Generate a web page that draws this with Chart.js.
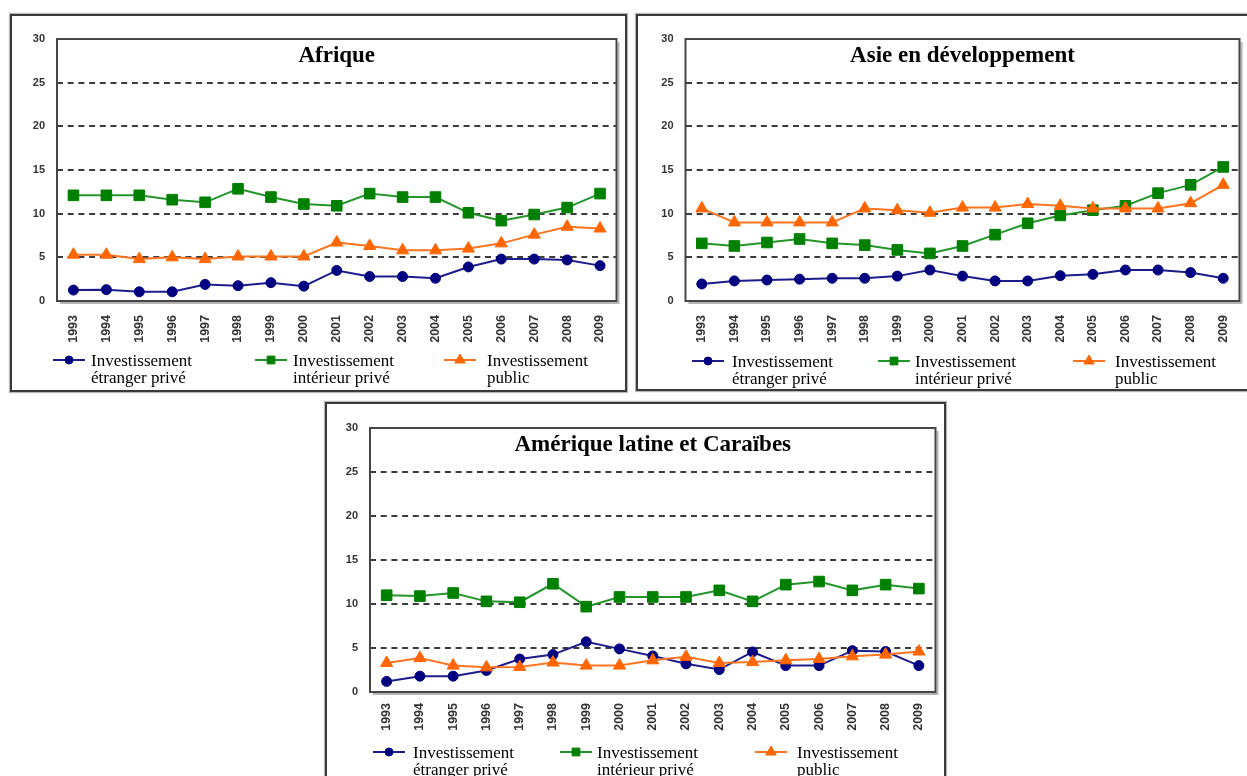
<!DOCTYPE html>
<html>
<head>
<meta charset="utf-8">
<script src="https://cdn.jsdelivr.net/npm/chart.js@4.4.1/dist/chart.umd.min.js"></script>
<style>
  html, body { margin: 0; padding: 0; background: #fff; width: 1247px; height: 776px; overflow: hidden; }
  .panel { position: absolute; box-sizing: border-box; border: 2px solid #3a3a3a; box-shadow: 0 0 1px 1px #b8b8b8; background: #fff; }
  canvas { position: absolute; }
</style>
</head>
<body>
<div class="panel" style="left:10px;top:14px;width:617px;height:378px"></div>
<div class="panel" style="left:636px;top:14px;width:614px;height:377px"></div>
<div class="panel" style="left:325px;top:402px;width:621px;height:380px"></div>
<canvas id="cAfrique" width="613" height="374" style="left:12px;top:16px"></canvas>
<canvas id="cAsie" width="610" height="373" style="left:638px;top:16px"></canvas>
<canvas id="cAmerique" width="617" height="376" style="left:327px;top:404px"></canvas>
<script>
// Années (axe des abscisses)
const years = ['1993','1994','1995','1996','1997','1998','1999','2000','2001',
               '2002','2003','2004','2005','2006','2007','2008','2009'];

// Libellés des trois séries (deux lignes dans la légende)
const seriesLines = [
  ['Investissement', 'étranger privé'],
  ['Investissement', 'intérieur privé'],
  ['Investissement', 'public']
];

// Graduations de l'axe vertical
const yTickValues = [0, 5, 10, 15, 20, 25, 30];

// Afrique
const afriqueEtranger  = [1.25, 1.3, 1.05, 1.05, 1.9, 1.75, 2.1, 1.7, 3.5, 2.8, 2.8, 2.6, 3.9, 4.8, 4.8, 4.7, 4.05];
const afriqueInterieur = [12.1, 12.1, 12.1, 11.6, 11.3, 12.85, 11.9, 11.1, 10.9, 12.3, 11.9, 11.9, 10.1, 9.2, 9.9, 10.7, 12.3];
const afriquePublic    = [5.3, 5.3, 4.8, 5.0, 4.8, 5.1, 5.1, 5.1, 6.7, 6.3, 5.8, 5.8, 6.0, 6.6, 7.6, 8.5, 8.3];

// Asie en développement
const asieEtranger  = [1.95, 2.3, 2.4, 2.5, 2.6, 2.6, 2.85, 3.55, 2.85, 2.3, 2.3, 2.9, 3.05, 3.55, 3.55, 3.25, 2.6];
const asieInterieur = [6.6, 6.3, 6.7, 7.1, 6.6, 6.4, 5.85, 5.45, 6.3, 7.6, 8.9, 9.8, 10.4, 10.9, 12.35, 13.3, 15.35];
const asiePublic    = [10.6, 9.0, 9.0, 9.0, 9.0, 10.6, 10.4, 10.1, 10.7, 10.7, 11.1, 10.9, 10.6, 10.6, 10.6, 11.2, 13.3];

// Amérique latine et Caraïbes
const ameriqueEtranger  = [1.2, 1.8, 1.8, 2.45, 3.75, 4.25, 5.7, 4.9, 4.1, 3.2, 2.55, 4.55, 3.0, 3.0, 4.7, 4.6, 3.0];
const ameriqueInterieur = [11.0, 10.9, 11.25, 10.3, 10.2, 12.3, 9.7, 10.8, 10.8, 10.8, 11.55, 10.3, 12.2, 12.55, 11.55, 12.2, 11.75];
const ameriquePublic    = [3.3, 3.85, 3.0, 2.8, 2.85, 3.35, 3.0, 3.0, 3.6, 4.0, 3.3, 3.4, 3.6, 3.75, 4.05, 4.25, 4.6];

Chart.defaults.font.family = '"Liberation Sans", Arial, sans-serif';

// Style de chaque série : couleur de ligne, couleur de marqueur, forme
const seriesStyles = [
  { line: '#1c1c8c', mark: '#000080', shape: 'circle',   r: 5,   legendR: 4 },
  { line: '#23962a', mark: '#008000', shape: 'rect',     r: 7.5, legendR: 5.5 },
  { line: '#ff7420', mark: '#ff6600', shape: 'triangle', r: 7,   legendR: 6 }
];

// Cadre du graphique, ombre et titre dans la zone de tracé
const plotFrame = {
  id: 'plotFrame',
  beforeDatasetsDraw(chart, args, opts) {
    const { ctx, chartArea: a } = chart;
    ctx.save();
    ctx.strokeStyle = '#b4b4b4';
    ctx.lineWidth = 2;
    ctx.beginPath();
    ctx.moveTo(a.right + 2, a.top + 3);
    ctx.lineTo(a.right + 2, a.bottom + 2);
    ctx.lineTo(a.left + 3, a.bottom + 2);
    ctx.stroke();
    ctx.strokeStyle = '#454545';
    ctx.strokeRect(a.left, a.top, a.right - a.left, a.bottom - a.top);
    ctx.fillStyle = '#000';
    ctx.font = 'bold 23px "Liberation Serif", "Times New Roman", serif';
    ctx.textAlign = 'center';
    ctx.textBaseline = 'middle';
    ctx.fillText(opts.title, (a.left + a.right) / 2, a.top + 17);
    ctx.restore();
  }
};

// Légende sous l'axe horizontal, sur deux lignes par série
const panelLegend = {
  id: 'panelLegend',
  afterDraw(chart, args, opts) {
    const ctx = chart.ctx;
    opts.items.forEach((it, i) => {
      const ds = chart.data.datasets[i];
      const st = seriesStyles[i];
      ctx.save();
      ctx.strokeStyle = st.line;
      ctx.lineWidth = 2;
      ctx.beginPath();
      ctx.moveTo(it.lineX, opts.y);
      ctx.lineTo(it.lineX + 32, opts.y);
      ctx.stroke();
      ctx.fillStyle = st.mark;
      ctx.strokeStyle = st.mark;
      ctx.lineWidth = 1;
      Chart.helpers.drawPoint(ctx, { pointStyle: st.shape, radius: st.legendR, rotation: 0, borderWidth: 1 }, it.lineX + 16, opts.y);
      ctx.fillStyle = '#000';
      ctx.font = '17px "Liberation Serif", "Times New Roman", serif';
      ctx.textAlign = 'left';
      ctx.textBaseline = 'alphabetic';
      ds.legendLines.forEach((t, k) => ctx.fillText(t, it.textX, opts.y + 6 + k * 16.5));
      ctx.restore();
    });
  }
};

function makePanel(id, title, values, geo) {
  const datasets = values.map((vals, i) => {
    const st = seriesStyles[i];
    return {
      label: seriesLines[i].join(' '),
      legendLines: seriesLines[i],
      data: vals,
      borderColor: st.line,
      borderWidth: 2,
      backgroundColor: st.mark,
      pointStyle: st.shape,
      pointRadius: st.r,
      pointBackgroundColor: st.mark,
      pointBorderColor: st.mark,
      pointBorderWidth: 1,
      tension: 0,
      order: 2 - i
    };
  });
  return new Chart(document.getElementById(id), {
    type: 'line',
    data: { labels: years, datasets },
    options: {
      responsive: false,
      animation: false,
      events: [],
      layout: { padding: { left: 0, top: geo.padTop, right: geo.padRight, bottom: 0 } },
      scales: {
        x: {
          type: 'category',
          offset: true,
          grid: { display: false, drawTicks: false },
          border: { display: false },
          ticks: {
            autoSkip: false,
            minRotation: 90,
            maxRotation: 90,
            padding: geo.xPad,
            color: '#333',
            font: { size: 12.5, weight: 'bold' }
          },
          afterFit(s) { s.height = geo.xHeight; s.paddingLeft = 0; s.paddingRight = 0; }
        },
        y: {
          min: 0,
          max: 30,
          afterBuildTicks(s) { s.ticks = yTickValues.map(v => ({ value: v })); },
          grid: {
            drawTicks: false,
            lineWidth: 2,
            color: c => (c.tick && (c.tick.value === 0 || c.tick.value === 30)) ? 'rgba(0,0,0,0)' : '#3c3c3c'
          },
          border: { display: false, dash: [6, 4.7] },
          ticks: { padding: 12, color: '#333', font: { size: 11, weight: 'bold' } },
          afterFit(s) { s.width = geo.yWidth; }
        }
      },
      plugins: {
        legend: { display: false },
        tooltip: { enabled: false },
        plotFrame: { title },
        panelLegend: { y: geo.legendY, items: geo.legendItems }
      }
    },
    plugins: [plotFrame, panelLegend]
  });
}

makePanel('cAfrique', 'Afrique',
  [afriqueEtranger, afriqueInterieur, afriquePublic],
  { padTop: 23, padRight: 8, yWidth: 45, xHeight: 89, xPad: 14, legendY: 344,
    legendItems: [ { lineX: 41, textX: 79 }, { lineX: 243, textX: 281 }, { lineX: 432, textX: 475 } ] });

makePanel('cAsie', 'Asie en développement',
  [asieEtranger, asieInterieur, asiePublic],
  { padTop: 23, padRight: 4, yWidth: 47.5, xHeight: 88, xPad: 14, legendY: 345,
    legendItems: [ { lineX: 54, textX: 94 }, { lineX: 240, textX: 277 }, { lineX: 435, textX: 477 } ] });

makePanel('cAmerique', 'Amérique latine et Caraïbes',
  [ameriqueEtranger, ameriqueInterieur, ameriquePublic],
  { padTop: 24, padRight: 6.5, yWidth: 43, xHeight: 88, xPad: 11, legendY: 348,
    legendItems: [ { lineX: 46, textX: 86 }, { lineX: 233, textX: 270 }, { lineX: 428, textX: 470 } ] });
</script>
</body>
</html>
